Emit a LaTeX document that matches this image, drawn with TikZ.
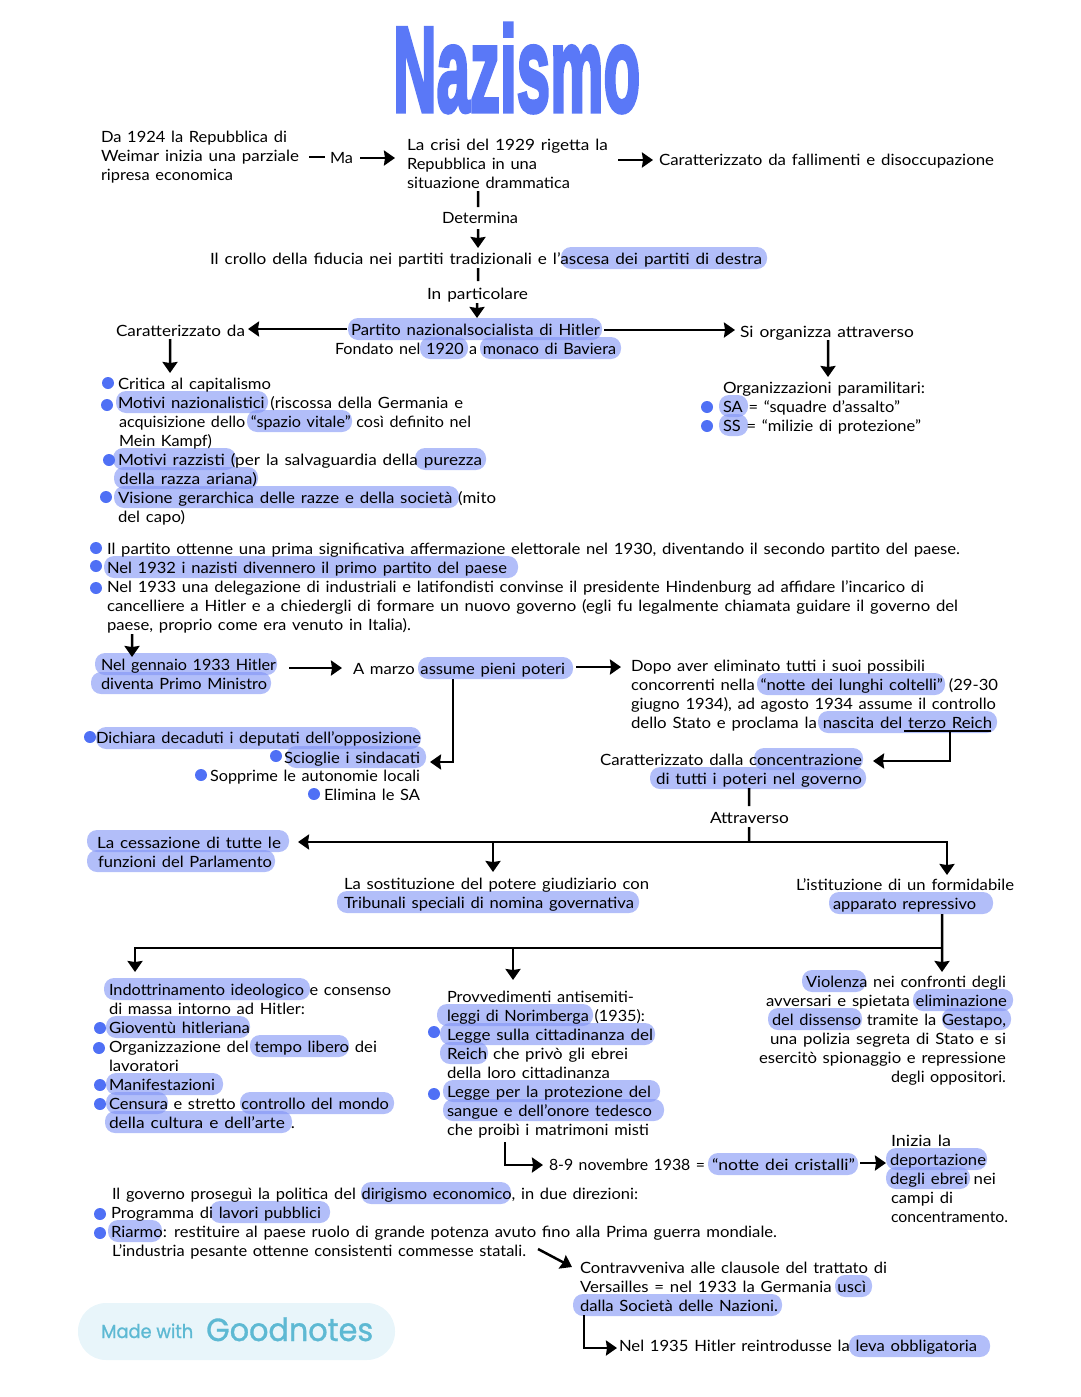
\documentclass[tikz,border=0pt]{standalone}
\usepackage{fontspec}
\usepackage{graphicx}
\usetikzlibrary{arrows.meta}
\setmainfont[WordSpace=1.35]{Lato}
\newfontfamily\ttlfont[FakeBold=3.5]{Liberation Sans Bold}
\newfontfamily\badgefont[FakeBold=1]{Poppins}
\definecolor{hlc}{HTML}{7F93F5}
\definecolor{dotc}{HTML}{4F70F5}
\definecolor{ttlc}{HTML}{5A78F7}
\definecolor{badgec}{HTML}{E8F5FA}
\definecolor{badget}{HTML}{5DB9D3}
\tikzset{
  txt/.style={anchor=base west,inner sep=0pt,outer sep=0pt,text height=11pt,text depth=4pt,text=black,font=\fontsize{15.5}{18}\selectfont},
  conn/.style={line width=2.5pt,black},
  arr/.style={conn,-{Stealth[length=11pt,width=15pt,inset=1pt]}},
  hlbox/.style={fill=hlc,fill opacity=.6,rounded corners=10pt},
  dotm/.style={fill=dotc}
}
% name, x0, x1, centre y, text
\newcommand{\tx}[5]{\node[txt] (#1) at (#2,#4+6) {\resizebox{\dimexpr #3pt-#2pt\relax}{\height}{#5}};}
\newcommand{\hl}[3]{\fill[hlbox] (#1,#3-11) rectangle (#2,#3+11);}
\newcommand{\dotb}[2]{\fill[dotm] (#1,#2) circle (6pt);}
\begin{document}
\begin{tikzpicture}[x=1pt,y=-1pt]
\useasboundingbox (0,0) rectangle (1080,1397);
% ---------- highlights
\hl{561}{767}{258}
\hl{348}{602}{329}
\hl{420}{468}{348}\hl{480}{621}{348}
\hl{719}{748}{406}\hl{719}{748}{425}
\hl{116}{268}{402}\hl{247}{352}{421}
\hl{113}{236}{459}\hl{415}{486}{459}\hl{114}{258}{478}
\hl{114}{459}{497}
\hl{104}{518}{567}
\hl{95}{277}{664}\hl{91}{271}{683}
\hl{418}{573}{668}
\hl{757}{945}{684}\hl{818}{997}{722}
\hl{96}{421}{738}\hl{286}{426}{757}
\hl{754}{863}{759}\hl{650}{866}{778}
\hl{87}{289}{841}\hl{87}{275}{861}
\hl{337}{639}{902}\hl{829}{993}{903}
\hl{104}{310}{989}\hl{106}{250}{1027}\hl{250}{349}{1046}\hl{106}{223}{1084}
\hl{106}{168}{1103}\hl{240}{394}{1103}\hl{105}{292}{1122}
\hl{437}{593}{1015}\hl{440}{655}{1034}\hl{440}{488}{1053}
\hl{443}{660}{1091}\hl{443}{664}{1110}
\hl{802}{866}{981}\hl{913}{1013}{1000}\hl{768}{862}{1019}\hl{942}{1011}{1019}
\hl{708}{858}{1164}\hl{886}{987}{1159}\hl{886}{970}{1178}
\hl{361}{511}{1193}\hl{210}{330}{1212}\hl{108}{162}{1231}
\hl{835}{872}{1286}\hl{573}{782}{1305}\hl{849}{990}{1346}
% ---------- bullets
\dotb{707}{407}\dotb{707}{426}
\dotb{108}{383}\dotb{107}{405}\dotb{109}{460}\dotb{106}{497}
\dotb{96}{548}\dotb{96}{566}\dotb{96}{588}
\dotb{90}{737}\dotb{276}{756}\dotb{201}{775}\dotb{314}{794}
\dotb{100}{1028}\dotb{99}{1048}\dotb{100}{1085}\dotb{100}{1104}
\dotb{434}{1032}\dotb{434}{1094}
\dotb{100}{1214}\dotb{100}{1233}
% ---------- title
\node[anchor=base west,inner sep=0pt] (title) at (393,111.5) {\resizebox{247pt}{88pt}{\color{ttlc}\ttlfont Nazismo}};
% ---------- texts
\tx{da}{101}{287}{136}{Da 1924 la Repubblica di}
\tx{weimar}{101}{299}{155}{Weimar inizia una parziale}
\tx{ripresa}{101}{233}{174}{ripresa economica}
\tx{ma}{330}{353}{157}{Ma}
\tx{crisia}{407}{608}{144}{La crisi del 1929 rigetta la}
\tx{crisib}{407}{537}{163}{Repubblica in una}
\tx{crisic}{407}{570}{182}{situazione drammatica}
\tx{caratt}{659}{994}{159}{Caratterizzato da fallimenti e disoccupazione}
\tx{det}{442}{518}{217}{Determina}
\tx{crollo}{210}{762}{258}{Il crollo della fiducia nei partiti tradizionali e l’ascesa dei partiti di destra}
\tx{part}{427}{528}{293}{In particolare}
\tx{partito}{351}{600}{329}{Partito nazionalsocialista di Hitler}
\tx{fondato}{335}{616}{348}{Fondato nel 1920 a monaco di Baviera}
\tx{carattda}{116}{245}{330}{Caratterizzato da}
\tx{siorg}{740}{914}{331}{Si organizza attraverso}
\tx{org}{723}{925}{387}{Organizzazioni paramilitari:}
\tx{sa}{723}{900}{406}{SA = “squadre d’assalto”}
\tx{ss}{723}{921}{425}{SS = “milizie di protezione”}
\tx{critica}{118}{271}{383}{Critica al capitalismo}
\tx{motivia}{118}{463}{402}{Motivi nazionalistici (riscossa della Germania e}
\tx{motivib}{119}{471}{421}{acquisizione dello “spazio vitale” così definito nel}
\tx{motivic}{119}{212}{440}{Mein Kampf)}
\tx{razzia}{118}{482}{459}{Motivi razzisti (per la salvaguardia della purezza}
\tx{razzib}{119}{257}{478}{della razza ariana)}
\tx{visa}{118}{496}{497}{Visione gerarchica delle razze e della società (mito}
\tx{visb}{118}{185}{516}{del capo)}
\tx{para}{107}{960}{548}{Il partito ottenne una prima significativa affermazione elettorale nel 1930, diventando il secondo partito del paese.}
\tx{parb}{107}{507}{567}{Nel 1932 i nazisti divennero il primo partito del paese}
\tx{parc}{107}{924}{586}{Nel 1933 una delegazione di industriali e latifondisti convinse il presidente Hindenburg ad affidare l’incarico di}
\tx{pard}{107}{958}{605}{cancelliere a Hitler e a chiedergli di formare un nuovo governo (egli fu legalmente chiamata guidare il governo del}
\tx{pare}{107}{411}{624}{paese, proprio come era venuto in Italia).}
\tx{genn}{101}{276}{664}{Nel gennaio 1933 Hitler}
\tx{diventa}{101}{267}{683}{diventa Primo Ministro}
\tx{marzo}{353}{565}{668}{A marzo assume pieni poteri}
\tx{dopoa}{631}{925}{665}{Dopo aver eliminato tutti i suoi possibili}
\tx{dopob}{631}{998}{684}{concorrenti nella “notte dei lunghi coltelli” (29-30}
\tx{dopoc}{631}{996}{703}{giugno 1934), ad agosto 1934 assume il controllo}
\tx{dopod}{631}{992}{722}{dello Stato e proclama la nascita del terzo Reich}
\tx{dich}{96}{421}{737}{Dichiara decaduti i deputati dell’opposizione}
\tx{sciog}{284}{420}{757}{Scioglie i sindacati}
\tx{sopp}{210}{420}{775}{Sopprime le autonomie locali}
\tx{elim}{324}{420}{794}{Elimina le SA}
\tx{conca}{600}{862}{759}{Caratterizzato dalla concentrazione}
\tx{concb}{656}{862}{778}{di tutti i poteri nel governo}
\tx{attr}{710}{789}{817}{Attraverso}
\tx{cessa}{97}{281}{842}{La cessazione di tutte le}
\tx{cessb}{98}{272}{861}{funzioni del Parlamento}
\tx{sosta}{344}{649}{883}{La sostituzione del potere giudiziario con}
\tx{sostb}{344}{634}{902}{Tribunali speciali di nomina governativa}
\tx{ista}{796}{1014}{884}{L’istituzione di un formidabile}
\tx{istb}{833}{976}{903}{apparato repressivo}
\tx{inda}{109}{391}{989}{Indottrinamento ideologico e consenso}
\tx{indb}{109}{305}{1008}{di massa intorno ad Hitler:}
\tx{indc}{109}{250}{1027}{Gioventù hitleriana}
\tx{indd}{109}{377}{1046}{Organizzazione del tempo libero dei}
\tx{inde}{109}{179}{1065}{lavoratori}
\tx{indf}{109}{215}{1084}{Manifestazioni}
\tx{indg}{109}{389}{1103}{Censura e stretto controllo del mondo}
\tx{indh}{109}{295}{1122}{della cultura e dell’arte .}
\tx{prova}{447}{634}{996}{Provvedimenti antisemiti-}
\tx{provb}{447}{645}{1015}{leggi di Norimberga (1935):}
\tx{provc}{447}{653}{1034}{Legge sulla cittadinanza del}
\tx{provd}{447}{628}{1053}{Reich che privò gli ebrei}
\tx{prove}{447}{610}{1072}{della loro cittadinanza}
\tx{provf}{447}{651}{1091}{Legge per la protezione del}
\tx{provg}{447}{652}{1110}{sangue e dell’onore tedesco}
\tx{provh}{447}{649}{1129}{che proibì i matrimoni misti}
\tx{viola}{806}{1006}{981}{Violenza nei confronti degli}
\tx{violb}{766}{1007}{1000}{avversari e spietata eliminazione}
\tx{violc}{772}{1006}{1019}{del dissenso tramite la Gestapo,}
\tx{viold}{770}{1006}{1038}{una polizia segreta di Stato e si}
\tx{viole}{759}{1006}{1057}{esercitò spionaggio e repressione}
\tx{violf}{891}{1006}{1076}{degli oppositori.}
\tx{nov}{549}{705}{1164}{8-9 novembre 1938 =}
\tx{notte}{712}{855}{1164}{“notte dei cristalli”}
\tx{inia}{891}{951}{1140}{Inizia la}
\tx{inib}{890}{986}{1159}{deportazione}
\tx{inic}{890}{996}{1178}{degli ebrei nei}
\tx{inid}{891}{953}{1197}{campi di}
\tx{inie}{891}{1008}{1216}{concentramento.}
\tx{gova}{112}{638}{1193}{Il governo proseguì la politica del dirigismo economico, in due direzioni:}
\tx{govb}{111}{321}{1212}{Programma di lavori pubblici}
\tx{govc}{111}{777}{1231}{Riarmo: restituire al paese ruolo di grande potenza avuto fino alla Prima guerra mondiale.}
\tx{govd}{112}{526}{1250}{L’industria pesante ottenne consistenti commesse statali.}
\tx{cona}{580}{887}{1267}{Contravveniva alle clausole del trattato di}
\tx{conb}{580}{866}{1286}{Versailles = nel 1933 la Germania uscì}
\tx{conc}{580}{778}{1305}{dalla Società delle Nazioni.}
\tx{leva}{619}{977}{1345}{Nel 1935 Hitler reintrodusse la leva obbligatoria}
% ---------- badge
\fill[badgec,rounded corners=28pt] (78,1303) rectangle (395,1360);
\node[anchor=base west,inner sep=0pt] (made) at (101,1338) {\resizebox{92pt}{\height}{\fontsize{19}{22}\color{badget}\badgefont\selectfont Made with}};
\node[anchor=base west,inner sep=0pt] (good) at (206,1341) {\resizebox{167pt}{\height}{\fontsize{32}{36}\color{badget}\badgefont\selectfont Goodnotes}};
% ---------- connectors
\coordinate (huba) at (749,842);
\coordinate (hubb) at (942,948);
\draw[conn] ([shift={(10,-.5)}]weimar.east) -- ([shift={(-5,-2.5)}]ma.west);
\draw[arr] ([shift={(7,-1.5)}]ma.east) -- ([shift={(-12,-7.5)}]crisib.west);
\draw[arr] ([shift={(10,13.5)}]crisia.east) -- ([shift={(-6,-1.5)}]caratt.west);
\draw[conn] ([shift={(-10.5,-1)}]crisic.south) -- ([shift={(-2,-5)}]det.north);
\draw[arr] ([shift={(-2,2)}]det.south) -- ([shift={(-8,-5)}]crollo.north);
\draw[conn] ([shift={(-8,0)}]crollo.south) -- ([shift={(.5,-7)}]part.north);
\draw[arr] ([shift={(-.5,0)}]part.south) -- ([shift={(1.5,-6)}]partito.north);
\draw[arr] ([shift={(-4,-2.5)}]partito.west) -- ([shift={(3,-3.5)}]carattda.east);
\draw[arr] ([shift={(4,-1.5)}]partito.east) -- ([shift={(-5,-3.5)}]siorg.west);
\draw[arr] ([shift={(-10.5,-1)}]carattda.south) -- ([shift={(-24.5,-5)}]critica.north);
\draw[arr] ([shift={(1,-1)}]siorg.south) -- ([shift={(4,-5)}]org.north);
\draw[arr] ([shift={(-127,0)}]pare.south) -- ([shift={(-56.5,-2)}]genn.north);
\draw[arr] ([shift={(13,1.5)}]genn.east) -- ([shift={(-11,-2.5)}]marzo.west);
\draw[arr] ([shift={(11,-3.5)}]marzo.east) -- ([shift={(-10,-.5)}]dopoa.west);
\draw[arr] ([shift={(-6,1)}]marzo.south) |- ([shift={(10,2.5)}]sciog.east);
\draw[conn] ([shift={(-88,6.5)}]dopod.east) -- ([shift={(-1,6.5)}]dopod.east);
\draw[arr] ([shift={(-42,6.5)}]dopod.east) |- ([shift={(11,-.5)}]conca.east);
\draw[conn] ([shift={(-10,0)}]concb.south) -- ([shift={(-.5,-6)}]attr.north);
\draw[conn] ([shift={(-.5,0)}]attr.south) -- (huba);
\draw[arr] (huba) -- ([shift={(17,-2.5)}]cessa.east);
\draw[arr] (huba) -| ([shift={(-3.5,-6)}]sosta.north);
\draw[arr] (huba) -| ([shift={(42,-4)}]ista.north);
\draw[arr] ([shift={(37.5,1)}]istb.south) -- ([shift={(36,-4)}]viola.north);
\draw[arr] (hubb) -| ([shift={(-115,-12)}]inda.north);
\draw[arr] (hubb) -| ([shift={(-27.5,-11)}]prova.north);
\draw[arr] ([shift={(-43,3)}]provh.south) |- ([shift={(-6,-1.5)}]nov.west);
\draw[arr] ([shift={(5,-3.5)}]notte.east) -- ([shift={(-4,1.5)}]inib.west);
\draw[arr] ([shift={(12,-3.5)}]govd.east) -- ([shift={(-8,-2.5)}]cona.west);
\draw[arr] ([shift={(-95,0)}]conc.south) |- ([shift={(-2,.5)}]leva.west);
\end{tikzpicture}
\end{document}
